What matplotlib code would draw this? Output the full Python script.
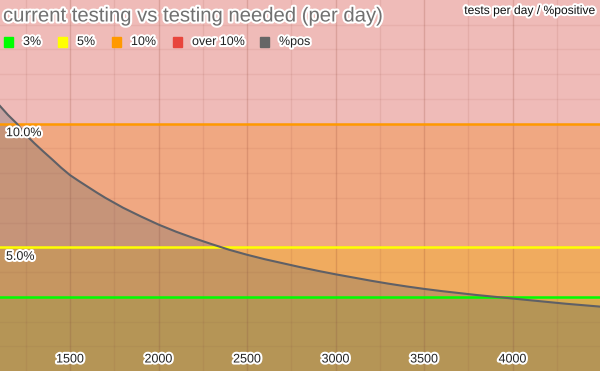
import matplotlib
matplotlib.use("Agg")
import matplotlib.pyplot as plt
import matplotlib.patheffects as pe
from matplotlib.patches import Rectangle

plt.rcParams['font.family'] = ['Liberation Sans', 'DejaVu Sans']

# data
tests_per_day = [1100, 1150, 1200, 1250, 1300, 1350, 1400, 1450, 1500, 1550,
                 1600, 1650, 1700, 1800, 1900, 2000, 2100, 2200, 2300, 2400,
                 2500, 2600, 2700, 2800, 2900, 3000, 3100, 3200, 3300, 3400,
                 3500, 3600, 3700, 3800, 3900, 4000, 4100, 4200, 4300, 4400,
                 4500]
pct_pos = [10.75, 10.35, 10.0, 9.55, 9.2, 8.87, 8.55, 8.22, 7.92, 7.68,
           7.45, 7.22, 7.0, 6.6, 6.25, 5.92, 5.63, 5.37, 5.13, 4.9,
           4.7, 4.52, 4.36, 4.2, 4.05, 3.91, 3.78, 3.65, 3.53, 3.42,
           3.32, 3.23, 3.15, 3.07, 3.0, 2.93, 2.86, 2.79, 2.72, 2.66,
           2.6]
band_names = ['3%', '5%', '10%', 'over 10%']
band_levels = [3, 5, 10, 15]
band_line_colors = ['#00ff00', '#ffff00', '#ff9900', None]
band_fill_colors = ['#d8aa50', '#f0ab5f', '#f0a882', '#efbbb8']
legend_colors = ['#00ff00', '#ffff00', '#ff9900', '#e8453c', '#666666']
legend_labels = band_names + ['%pos']
x_ticks = [1500, 2000, 2500, 3000, 3500, 4000]
y_labels = [10, 5]
title = 'current testing vs testing needed (per day)'
axis_title = 'tests per day / %positive'

fig = plt.figure(figsize=(6, 3.71), dpi=100)
ax = fig.add_axes([0, 0, 1, 1])
xmin, xmax = 1104.5, 4494
ax.set_xlim(xmin, xmax)
ax.set_ylim(0, 15)
ax.axis('off')

halo = [pe.withStroke(linewidth=3, foreground='white')]

# bands
lower = 0
for lvl, fc in zip(band_levels, band_fill_colors):
    ax.axhspan(lower, lvl, color=fc, zorder=0, lw=0)
    lower = lvl

# grid
for v in range(1250, 4500, 250):
    major = v % 500 == 0
    ax.axvline(v, color='#8a3a2a', alpha=0.2 if major else 0.10, lw=1, zorder=0.5)
for h in range(1, 15):
    ax.axhline(h, color='#8a3a2a', alpha=0.08, lw=1, zorder=0.5)

# %pos area
ax.fill_between(tests_per_day, 0, pct_pos, color='#666666', alpha=0.3, lw=0, zorder=1)

# band lines
for lvl, lc in zip(band_levels, band_line_colors):
    if lc:
        ax.axhline(lvl, color=lc, lw=1.8, zorder=2)

ax.plot(tests_per_day, pct_pos, color='#5f6066', lw=1.5, zorder=3,
        solid_joinstyle='round')

# x tick labels
for t in x_ticks:
    ax.annotate(str(t), xy=(t, 0), xycoords='data', xytext=(0, 11.5),
                textcoords='offset pixels', ha='center', va='center',
                fontsize=9, color='#222222', path_effects=halo, zorder=5)
# y labels
for yv in y_labels:
    ax.annotate(f'{yv:.1f}%', xy=(0.01, yv), xycoords=('axes fraction', 'data'),
                xytext=(0, -9.5), textcoords='offset pixels', ha='left', va='center',
                fontsize=9, color='#222222', path_effects=halo, zorder=5)

# title
fig.text(3 / 600, 1 - 16 / 371, title, fontsize=14.6, color='#707070',
         ha='left', va='center', path_effects=halo)
fig.text(596 / 600, 1 - 11 / 371, axis_title, fontsize=8.7, color='#111111',
         ha='right', va='center', path_effects=halo)

# legend
sq_x = [4, 58, 112, 173, 260]
for xpos, c, lab in zip(sq_x, legend_colors, legend_labels):
    fig.patches.append(Rectangle((xpos / 600, 1 - 47 / 371), 9 / 600, 10 / 371,
                                 transform=fig.transFigure, color=c))
    fig.text((xpos + 19) / 600, 1 - 42 / 371, lab, fontsize=9, color='#222222',
             ha='left', va='center', path_effects=halo)

fig.savefig('out.png', dpi=100)
